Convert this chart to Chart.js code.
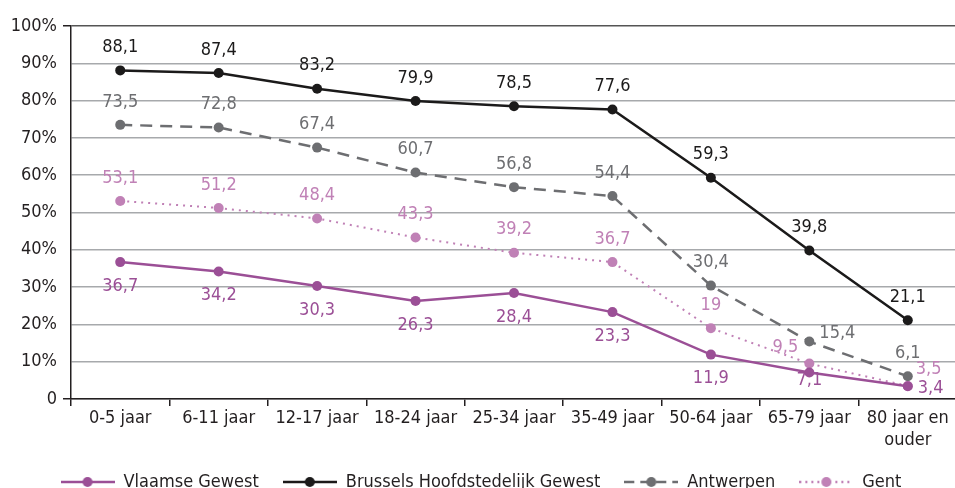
<!DOCTYPE html>
<html>
<head>
<meta charset="utf-8">
<script src="https://cdn.jsdelivr.net/npm/chart.js@4/dist/chart.umd.min.js"></script>
<style>
  html, body { margin: 0; padding: 0; background: #fff; overflow: hidden; }
  #wrap { width: 962px; height: 488px; }
</style>
</head>
<body>
<div id="wrap"><canvas id="chart"></canvas></div>
<script>
const ageGroups = ["0-5 jaar", "6-11 jaar", "12-17 jaar", "18-24 jaar", "25-34 jaar",
  "35-49 jaar", "50-64 jaar", "65-79 jaar", ["80 jaar en", "ouder"]];

const vlaamseGewest = [36.7, 34.2, 30.3, 26.3, 28.4, 23.3, 11.9, 7.1, 3.4];
const brussel = [88.1, 87.4, 83.2, 79.9, 78.5, 77.6, 59.3, 39.8, 21.1];
const antwerpen = [73.5, 72.8, 67.4, 60.7, 56.8, 54.4, 30.4, 15.4, 6.1];
const gent = [53.1, 51.2, 48.4, 43.3, 39.2, 36.7, 19, 9.5, 3.5];

const yTicks = [0, 10, 20, 30, 40, 50, 60, 70, 80, 90, 100];

const FONT = "'DejaVu Sans Condensed', sans-serif";
const TXT = "#231f20";

// label placement: default above/below, a few exceptions [dx, dy, align]
const labelSpots = {
  0: { dy: 24, fix: { 8: [10, 2, "left"], 7: [0, 8, "center"] } },
  1: { dy: -23, fix: {} },
  2: { dy: -23, fix: { 7: [10, -8, "left"] } },
  3: { dy: -23, fix: { 7: [-24, -16, "center"], 8: [8, -17, "left"] } }
};

function legendImg(color, dash) {
  const c = document.createElement("canvas");
  c.width = 54; c.height = 14;
  const g = c.getContext("2d");
  g.strokeStyle = color;
  g.lineWidth = 2.5;
  g.setLineDash(dash);
  g.beginPath(); g.moveTo(0, 7); g.lineTo(54, 7); g.stroke();
  g.fillStyle = color;
  g.beginPath(); g.arc(27, 7, 5, 0, Math.PI * 2); g.fill();
  return c;
}

const dataLabels = {
  id: "dataLabels",
  afterDatasetsDraw(chart) {
    const ctx = chart.ctx;
    ctx.save();
    ctx.font = "18px " + FONT;
    ctx.textBaseline = "middle";
    chart.data.datasets.forEach((ds, di) => {
      const meta = chart.getDatasetMeta(di);
      const spot = labelSpots[di];
      ctx.fillStyle = ds.borderColor;
      meta.data.forEach((pt, i) => {
        const f = spot.fix[i];
        const txt = String(ds.data[i]).replace(".", ",");
        ctx.textAlign = f ? f[2] : "center";
        const dx = f ? f[0] : 0;
        const dy = f ? f[1] : spot.dy;
        ctx.fillText(txt, pt.x + dx, pt.y + dy);
      });
    });
    ctx.restore();
  }
};

Chart.defaults.font.family = FONT;
Chart.defaults.font.size = 18;
Chart.defaults.color = TXT;

const styles = [
  { label: "Vlaamse Gewest", data: vlaamseGewest, color: "#9b4f96", dash: [] },
  { label: "Brussels Hoofdstedelijk Gewest", data: brussel, color: "#1b1a1a", dash: [] },
  { label: "Antwerpen", data: antwerpen, color: "#6d6e71", dash: [12, 8] },
  { label: "Gent", data: gent, color: "#c081b6", dash: [2, 5] }
];

const datasets = styles.map(s => ({
  label: s.label,
  data: s.data,
  borderColor: s.color,
  backgroundColor: s.color,
  borderWidth: s.dash.length && s.dash[0] < 5 ? 2 : 2.5,
  borderDash: s.dash,
  pointRadius: 5,
  pointHoverRadius: 5,
  pointBorderWidth: 0,
  tension: 0,
  fill: false
}));

// draw back to front like the reference
datasets.forEach((d, i) => d.order = [1, 0, 2, 3][i]);

new Chart(document.getElementById("chart"), {
  type: "line",
  data: { labels: ageGroups, datasets },
  options: {
    responsive: true,
    maintainAspectRatio: false,
    animation: false,
    layout: { padding: { top: 26, right: 0, left: 0, bottom: -13 } },
    plugins: {
      tooltip: { enabled: false },
      legend: {
        position: "bottom",
        labels: {
          usePointStyle: true,
          pointStyleWidth: 54,
          padding: 24,
          color: TXT,
          font: { size: 18 },
          generateLabels(chart) {
            const items = Chart.defaults.plugins.legend.labels.generateLabels(chart);
            items.forEach(it => {
              const s = styles[it.datasetIndex];
              it.pointStyle = legendImg(s.color, s.dash.length ? (s.dash[0] < 5 ? [2, 4] : [10, 6]) : []);
            });
            return items.sort((a, b) => a.datasetIndex - b.datasetIndex);
          }
        }
      }
    },
    scales: {
      x: {
        offset: true,
        grid: {
          offset: true,
          drawOnChartArea: false,
          tickLength: 7,
          color: "#231f20",
          lineWidth: 1.5
        },
        border: { color: "#231f20", width: 1.5 },
        ticks: { padding: 2, color: TXT, maxRotation: 0, autoSkip: false },
        afterFit(s) { s.height = 50; }
      },
      y: {
        min: 0,
        max: 100,
        afterBuildTicks(s) { s.ticks = yTicks.map(v => ({ value: v })); },
        grid: {
          color: c => c.tick && c.tick.value === 100 ? "#555" : "#a7a9ac",
          lineWidth: 1.5,
          tickLength: 8,
          tickColor: c => c.tick && (c.tick.value === 0 || c.tick.value === 100) ? "#231f20" : "transparent"
        },
        border: { color: "#231f20", width: 1.5 },
        ticks: {
          padding: 6,
          color: TXT,
          callback: v => v === 0 ? "0" : v + "%"
        },
        afterFit(s) { s.width = 71; }
      }
    }
  },
  plugins: [dataLabels]
});
</script>
</body>
</html>
